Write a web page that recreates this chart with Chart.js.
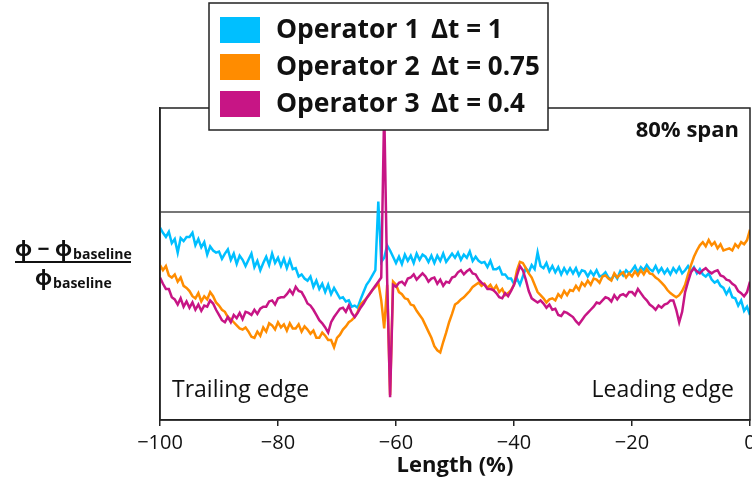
<!DOCTYPE html>
<html>
<head>
<meta charset="utf-8">
<script src="https://cdn.jsdelivr.net/npm/chart.js@4.4.1/dist/chart.umd.min.js"></script>
<style>
  html, body { margin: 0; padding: 0; background: #fff; }
</style>
</head>
<body>
<canvas id="chart" width="752" height="483"></canvas>
<script>
// sample positions along the chord (%), -100 = trailing edge, 0 = leading edge
const lengthPct = [
  -100,-99.5,-99,-98.5,-98,-97.5,-97,-96.5,-96,-95.5,
  -95,-94.5,-94,-93.5,-93,-92.5,-92,-91.5,-91,-90.5,
  -90,-89.5,-89,-88.5,-88,-87.5,-87,-86.5,-86,-85.5,
  -85,-84.5,-84,-83.5,-83,-82.5,-82,-81.5,-81,-80.5,
  -80,-79.5,-79,-78.5,-78,-77.5,-77,-76.5,-76,-75.5,
  -75,-74.5,-74,-73.5,-73,-72.5,-72,-71.5,-71,-70.5,
  -70,-69.5,-69,-68.5,-68,-67.5,-67,-66.5,-66,-65.5,
  -65,-64.5,-64,-63.5,-63,-62.5,-62,-61.5,-61,-60.5,
  -60,-59.5,-59,-58.5,-58,-57.5,-57,-56.5,-56,-55.5,
  -55,-54.5,-54,-53.5,-53,-52.5,-52,-51.5,-51,-50.5,
  -50,-49.5,-49,-48.5,-48,-47.5,-47,-46.5,-46,-45.5,
  -45,-44.5,-44,-43.5,-43,-42.5,-42,-41.5,-41,-40.5,
  -40,-39.5,-39,-38.5,-38,-37.5,-37,-36.5,-36,-35.5,
  -35,-34.5,-34,-33.5,-33,-32.5,-32,-31.5,-31,-30.5,
  -30,-29.5,-29,-28.5,-28,-27.5,-27,-26.5,-26,-25.5,
  -25,-24.5,-24,-23.5,-23,-22.5,-22,-21.5,-21,-20.5,
  -20,-19.5,-19,-18.5,-18,-17.5,-17,-16.5,-16,-15.5,
  -15,-14.5,-14,-13.5,-13,-12.5,-12,-11.5,-11,-10.5,
  -10,-9.5,-9,-8.5,-8,-7.5,-7,-6.5,-6,-5.5,
  -5,-4.5,-4,-3.5,-3,-2.5,-2,-1.5,-1,-0.5,
  0
];

// relative change of phi vs baseline, in %
const operator1 = [
  -1.5,-2.0,-2.4,-1.9,-3.0,-2.6,-3.9,-2.5,-2.8,-2.4,
  -2.4,-2.0,-3.2,-2.6,-3.4,-2.9,-4.1,-3.3,-3.7,-3.9,
  -3.8,-4.5,-4.0,-3.6,-4.6,-4.0,-5.0,-4.2,-4.6,-5.2,
  -4.6,-4.0,-5.3,-4.7,-5.6,-4.9,-4.3,-5.1,-4.0,-4.9,
  -4.4,-5.2,-4.5,-5.4,-4.6,-5.5,-5.4,-6.2,-6.0,-6.4,
  -6.6,-6.2,-7.2,-6.6,-7.4,-6.9,-7.7,-7.0,-7.9,-7.3,
  -7.8,-8.3,-8.2,-8.6,-8.5,-9.1,-9.0,-9.2,-8.4,-7.7,
  -7.0,-6.6,-6.1,-5.6,1.0,-4.8,-4.4,-3.2,-3.7,-4.3,
  -4.9,-4.3,-5.0,-4.1,-4.7,-4.2,-4.9,-4.0,-4.6,-4.1,
  -4.3,-4.8,-4.2,-4.9,-4.2,-4.7,-4.0,-4.8,-4.4,-4.0,
  -4.4,-3.9,-4.6,-4.1,-4.4,-3.8,-4.7,-4.3,-4.7,-4.9,
  -4.8,-5.3,-4.7,-5.5,-5.5,-5.3,-6.0,-6.0,-6.4,-6.4,
  -6.9,-6.4,-7.0,-6.2,-5.4,-5.8,-5.1,-5.5,-3.9,-5.2,
  -5.4,-4.9,-5.7,-5.2,-5.8,-5.3,-6.0,-5.4,-5.9,-5.4,
  -5.9,-5.4,-6.1,-5.6,-5.7,-6.2,-5.7,-6.1,-5.6,-6.2,
  -6.1,-5.8,-6.3,-6.5,-6.0,-6.4,-5.7,-6.1,-5.6,-5.9,
  -5.6,-5.2,-5.8,-5.3,-5.6,-5.1,-5.5,-5.7,-5.2,-5.8,
  -5.4,-5.9,-5.5,-6.0,-5.4,-5.8,-5.3,-5.9,-5.6,-5.2,
  -5.7,-5.3,-5.9,-5.5,-6.0,-6.2,-5.9,-6.5,-6.8,-6.6,
  -7.1,-7.3,-7.9,-7.4,-8.2,-8.3,-9.0,-8.5,-9.5,-9.1,
  -9.9
];

const operator2 = [
  -5.1,-5.6,-5.2,-6.1,-6.3,-6.0,-6.7,-6.3,-7.1,-7.3,
  -7.6,-8.1,-8.3,-7.8,-8.6,-8.1,-8.4,-7.7,-8.1,-8.7,
  -9.0,-9.4,-9.6,-10.1,-10.3,-10.6,-10.9,-11.2,-11.3,-11.1,
  -11.5,-12.0,-12.1,-11.5,-11.9,-11.1,-11.5,-10.7,-10.9,-11.3,
  -10.6,-11.1,-10.8,-11.4,-10.7,-11.2,-11.2,-10.8,-11.5,-11.0,
  -11.3,-11.7,-11.4,-12.1,-12.1,-11.6,-11.9,-12.3,-12.3,-13.0,
  -12.1,-11.8,-11.3,-11.0,-10.6,-10.4,-10.1,-9.6,-8.9,-8.6,
  -8.3,-7.9,-7.5,-7.2,-6.8,-8.5,-11.2,-7.0,-17.6,-6.7,
  -7.0,-7.7,-7.9,-8.3,-8.4,-8.9,-9.0,-9.5,-9.9,-10.3,
  -10.9,-11.5,-12.1,-12.9,-13.3,-13.5,-12.5,-11.6,-10.6,-9.8,
  -8.9,-8.7,-8.4,-8.2,-7.9,-7.6,-7.2,-7.0,-6.8,-7.1,
  -6.9,-7.3,-7.0,-7.5,-7.1,-7.7,-7.4,-8.0,-7.8,-7.5,
  -7.0,-5.6,-4.8,-4.9,-5.4,-5.9,-6.3,-7.0,-7.7,-8.0,
  -8.3,-8.7,-8.4,-8.3,-8.5,-7.9,-8.2,-7.6,-8.0,-7.5,
  -7.6,-7.1,-7.5,-6.8,-7.1,-6.6,-7.0,-6.4,-6.5,-6.8,
  -6.2,-6.1,-6.4,-6.6,-5.9,-6.3,-6.0,-5.8,-6.3,-5.9,
  -6.2,-5.7,-6.1,-5.6,-6.0,-5.5,-5.9,-6.0,-6.3,-6.5,
  -6.8,-7.1,-7.5,-7.8,-8.0,-8.2,-8.0,-7.6,-7.0,-6.0,
  -5.1,-4.3,-3.7,-3.2,-2.9,-3.3,-2.7,-3.2,-2.9,-3.5,
  -3.1,-3.7,-3.6,-3.5,-3.7,-3.1,-3.4,-2.9,-3.1,-2.7,
  -1.7
];

const operator3 = [
  -6.3,-6.9,-7.4,-7.4,-8.2,-8.4,-8.9,-8.3,-9.1,-8.6,
  -9.2,-8.7,-9.4,-8.9,-9.5,-9.0,-9.1,-8.5,-8.8,-9.4,
  -9.9,-10.4,-10.6,-10.1,-10.6,-9.9,-10.2,-9.7,-10.3,-9.6,
  -9.7,-9.9,-9.4,-9.8,-9.3,-9.1,-9.1,-8.6,-8.5,-8.9,
  -8.3,-8.2,-8.2,-7.9,-7.5,-7.9,-7.2,-7.6,-7.7,-8.2,
  -8.8,-9.0,-9.4,-9.9,-10.4,-10.7,-11.1,-11.6,-10.6,-10.1,
  -9.7,-9.3,-9.2,-9.6,-9.0,-9.7,-10.1,-9.7,-9.2,-8.8,
  -8.3,-7.9,-7.5,-7.1,-6.7,-6.3,10,-6.5,-17.8,-7.0,
  -7.2,-6.8,-6.7,-7.0,-6.4,-6.3,-6.0,-6.5,-6.2,-5.9,
  -6.2,-6.7,-6.4,-6.3,-6.9,-6.5,-7.1,-6.7,-6.8,-6.3,
  -6.2,-5.8,-5.6,-6.0,-5.7,-5.5,-5.9,-6.0,-6.5,-6.8,
  -7.0,-7.4,-7.4,-7.5,-7.8,-8.2,-8.3,-7.8,-8.1,-7.6,
  -7.0,-6.1,-5.2,-5.6,-6.5,-7.6,-8.3,-8.5,-8.7,-8.5,
  -8.8,-9.2,-8.9,-9.4,-9.3,-9.9,-10.0,-9.6,-9.7,-9.9,
  -10.1,-10.5,-10.8,-10.4,-10.0,-9.7,-9.4,-9.1,-8.7,-8.8,
  -8.5,-8.2,-8.3,-8.6,-8.0,-8.4,-8.0,-7.9,-8.1,-7.7,
  -7.7,-8.0,-7.4,-7.8,-8.2,-8.5,-8.9,-9.1,-9.4,-9.0,
  -9.2,-8.9,-8.8,-8.5,-8.5,-9.4,-10.6,-9.6,-7.7,-6.7,
  -5.8,-5.4,-5.7,-5.9,-5.6,-5.4,-5.7,-5.9,-5.7,-5.6,
  -6.1,-6.2,-6.5,-6.6,-6.9,-7.1,-7.6,-7.8,-8.1,-7.7,
  -6.7
];

const baselineX = [-100, 0];
const baselineY = [0, 0];

const xTicks = [-100, -80, -60, -40, -20, 0];

const seriesNames = ['Operator 1', 'Operator 2', 'Operator 3'];
const timeSteps = ['\u0394t = 1', '\u0394t = 0.75', '\u0394t = 0.4'];
const seriesColors = ['#00bfff', '#ff8c00', '#c71585'];

const FONT = "'Open Sans', 'Noto Sans', sans-serif";

function toPoints(xs, ys) {
  return xs.map((x, i) => ({ x: x, y: ys[i] }));
}

// frame, annotations, fraction label and the boxed legend
const decorPlugin = {
  id: 'decor',
  afterDatasetsDraw(chart) {
    const ctx = chart.ctx;
    const a = chart.chartArea;
    ctx.save();
    ctx.strokeStyle = '#222';
    ctx.lineWidth = 1.5;
    ctx.strokeRect(a.left, a.top, a.right - a.left, a.bottom - a.top);

    ctx.fillStyle = '#111';
    ctx.textBaseline = 'middle';
    ctx.font = 'bold 22px ' + FONT;
    ctx.textAlign = 'right';
    ctx.fillText('80% span', 739, 131);

    ctx.font = '23px ' + FONT;
    ctx.textAlign = 'left';
    ctx.fillText('Trailing edge', 172, 390);
    ctx.textAlign = 'right';
    ctx.fillText('Leading edge', 734, 390);

    ctx.font = 'bold 22px ' + FONT;
    ctx.textAlign = 'center';
    ctx.fillText('Length (%)', 455, 466);

    // y label as a fraction
    ctx.textAlign = 'left';
    ctx.font = 'bold 21px ' + FONT;
    ctx.fillText('\u03d5 \u2212 \u03d5', 15, 250);
    let w = ctx.measureText('\u03d5 \u2212 \u03d5').width;
    ctx.font = 'bold 14px ' + FONT;
    ctx.fillText('baseline', 15 + w + 1, 255);
    ctx.fillRect(15, 261, 116, 2);
    ctx.font = 'bold 21px ' + FONT;
    ctx.fillText('\u03d5', 35, 279);
    w = ctx.measureText('\u03d5').width;
    ctx.font = 'bold 14px ' + FONT;
    ctx.fillText('baseline', 35 + w + 1, 284);
    ctx.restore();
  },
  afterDraw(chart) {
    const ctx = chart.ctx;
    ctx.save();
    ctx.fillStyle = '#fff';
    ctx.fillRect(209, 3, 339, 127);
    ctx.strokeStyle = '#222';
    ctx.lineWidth = 1.5;
    ctx.strokeRect(209, 3, 339, 127);
    const rows = [30, 67, 104];
    rows.forEach((cy, i) => {
      ctx.fillStyle = seriesColors[i];
      ctx.fillRect(220, cy - 13, 40, 26);
      ctx.fillStyle = '#111';
      ctx.textBaseline = 'middle';
      ctx.textAlign = 'left';
      ctx.font = 'bold 26.5px ' + FONT;
      ctx.fillText(seriesNames[i], 276, cy);
      ctx.font = 'bold 26px ' + FONT;
      ctx.fillText(timeSteps[i], 431, cy + 1);
    });
    ctx.restore();
  }
};

const ctx = document.getElementById('chart').getContext('2d');
new Chart(ctx, {
  type: 'line',
  data: {
    datasets: [
      {
        label: seriesNames[0],
        data: toPoints(lengthPct, operator1),
        borderColor: seriesColors[0],
        borderWidth: 2.5,
        pointRadius: 0,
        order: 3
      },
      {
        label: seriesNames[1],
        data: toPoints(lengthPct, operator2),
        borderColor: seriesColors[1],
        borderWidth: 2.5,
        pointRadius: 0,
        order: 2
      },
      {
        label: seriesNames[2],
        data: toPoints(lengthPct, operator3),
        borderColor: seriesColors[2],
        borderWidth: 2.5,
        pointRadius: 0,
        order: 1
      },
      {
        label: 'baseline',
        data: toPoints(baselineX, baselineY),
        borderColor: '#777',
        borderWidth: 2,
        pointRadius: 0,
        order: 4
      }
    ]
  },
  options: {
    responsive: false,
    animation: false,
    layout: { padding: { left: 0, right: 2, top: 108, bottom: 0 } },
    plugins: {
      legend: { display: false },
      tooltip: { enabled: false }
    },
    scales: {
      x: {
        type: 'linear',
        min: -100,
        max: 0,
        afterBuildTicks: (scale) => { scale.ticks = xTicks.map(v => ({ value: v })); },
        afterFit: (scale) => { scale.height = 63; scale.paddingLeft = 0; scale.paddingRight = 0; },
        ticks: {
          autoSkip: false,
          maxRotation: 0,
          color: '#111',
          font: { family: FONT, size: 20 },
          padding: 5,
          callback: (v) => String(v).replace('-', '\u2212')
        },
        grid: { drawOnChartArea: false, tickLength: 6, color: '#222', lineWidth: 1.5 },
        border: { display: true, color: '#222', width: 1.5 }
      },
      y: {
        type: 'linear',
        min: -20,
        max: 10,
        ticks: { display: false },
        grid: { display: false },
        border: { display: true, color: '#222', width: 1.5 },
        afterFit: (scale) => { scale.width = 160; scale.paddingTop = 0; scale.paddingBottom = 0; }
      }
    }
  },
  plugins: [decorPlugin]
});
</script>
</body>
</html>
